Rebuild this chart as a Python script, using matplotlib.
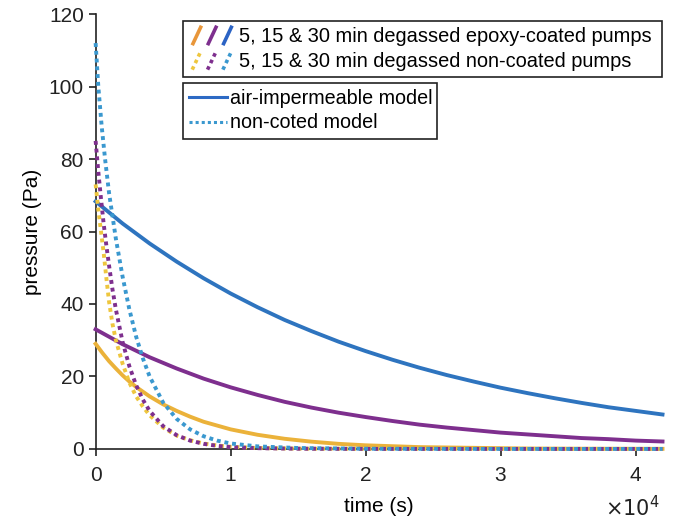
import matplotlib
matplotlib.use('Agg')
import matplotlib.pyplot as plt
from matplotlib.legend_handler import HandlerBase
from matplotlib.lines import Line2D
from matplotlib.ticker import FuncFormatter

plt.rcParams['font.family'] = ['Liberation Sans', 'DejaVu Sans']

# air-impermeable (epoxy-coated) model curves, time in s, pressure in Pa
t_solid_blue = [0, 2000, 4000, 6000, 8000, 10000, 12000, 14000, 16000, 18000, 20000,
                22000, 24000, 26000, 28000, 30000, 32000, 34000, 36000, 38000, 40000, 42000]
p_solid_blue = [68.3, 62.2, 56.7, 51.7, 47.1, 42.9, 39.1, 35.6, 32.5, 29.6, 27.0,
                24.6, 22.4, 20.4, 18.6, 16.9, 15.4, 14.0, 12.7, 11.5, 10.5, 9.5]
t_solid_purple = t_solid_blue
p_solid_purple = [33.0, 28.9, 25.3, 22.2, 19.4, 17.0, 14.9, 13.0, 11.4, 10.0, 8.8,
                  7.7, 6.7, 5.9, 5.2, 4.5, 4.0, 3.5, 3.0, 2.7, 2.3, 2.05]
t_solid_yellow = [0, 500, 1000, 1500, 2000, 2500, 3000, 4000, 5000, 6000, 7000, 8000,
                  10000, 12000, 14000, 16000, 18000, 20000, 24000, 28000, 32000, 36000, 42000]
p_solid_yellow = [29.0, 26.5, 24.2, 22.2, 20.3, 18.6, 17.1, 14.5, 12.3, 10.5, 8.9, 7.5,
                  5.4, 3.9, 2.8, 2.0, 1.4, 1.0, 0.5, 0.3, 0.1, 0.05, 0.02]

# non-coated model curves
t_dot_blue = [0, 200, 450, 700, 1000, 1500, 2000, 2500, 3000, 3500, 4000, 5000, 6000,
              7000, 8000, 9000, 10000, 12000, 15000, 20000, 30000, 42000]
p_dot_blue = [112, 100, 89, 80, 70.5, 58, 47.5, 38.5, 31, 25, 20, 12.8, 8.3,
              5.4, 3.5, 2.3, 1.5, 0.7, 0.25, 0.05, 0.0, 0.0]
t_dot_purple = [0, 200, 400, 600, 800, 1000, 1250, 1500, 2000, 2500, 3000, 3500, 4000,
                5000, 6000, 7000, 8000, 9000, 10000, 12000, 15000, 20000, 42000]
p_dot_purple = [85, 76.5, 69, 62, 56, 50.5, 44, 38.5, 29.5, 22.8, 17.6, 13.6, 10.5,
                6.3, 3.8, 2.3, 1.4, 0.85, 0.5, 0.2, 0.06, 0.01, 0.0]
t_dot_yellow = [0, 200, 400, 600, 800, 1000, 1250, 1500, 2000, 2500, 3000, 3500, 4000,
                5000, 6000, 7000, 8000, 9000, 10000, 12000, 15000, 20000, 42000]
p_dot_yellow = [73, 66, 60, 54, 47, 40.5, 34.5, 30, 23.5, 18.3, 14.5, 11.7, 9.3,
                5.9, 3.7, 2.4, 1.5, 0.95, 0.6, 0.25, 0.08, 0.01, 0.0]

legend_top = ['5, 15 & 30 min degassed epoxy-coated pumps',
              '5, 15 & 30 min degassed non-coated pumps']
legend_bottom = ['air-impermeable model', 'non-coted model']

BLUE = '#2E74BF'
PURPLE = '#7E2F8E'
YELLOW = '#EBB23A'
BLUE_D = '#3A98CF'
PURPLE_D = '#7E2F8E'
YELLOW_D = '#EEC63E'
DOTS = (0, (1, 1))


class SlashHandler(HandlerBase):
    def __init__(self, colors, ls):
        super().__init__()
        self.colors = colors
        self.ls = ls

    def create_artists(self, legend, orig_handle, xdescent, ydescent,
                       width, height, fontsize, trans):
        arts = []
        step = width / len(self.colors)
        for i, c in enumerate(self.colors):
            x0 = -xdescent + i * step + step * 0.2
            x1 = x0 + step * 0.6
            y0 = -ydescent - height * 0.2
            y1 = -ydescent + height * 1.2
            ln = Line2D([x0, x1], [y0, y1], color=c, lw=2.6, ls=self.ls,
                        solid_capstyle='butt', dash_capstyle='butt', transform=trans)
            arts.append(ln)
        return arts


fig, ax = plt.subplots(figsize=(6.83, 5.22), dpi=100)
fig.subplots_adjust(left=0.14, right=0.970, bottom=0.140, top=0.973)

lw = 2.8
ax.plot(t_solid_blue, p_solid_blue, color=BLUE, lw=lw, clip_on=False, zorder=3)
ax.plot(t_solid_purple, p_solid_purple, color=PURPLE, lw=lw, clip_on=False, zorder=3)
ax.plot(t_solid_yellow, p_solid_yellow, color=YELLOW, lw=lw, clip_on=False, zorder=3)
ax.plot(t_dot_yellow, p_dot_yellow, color=YELLOW_D, lw=lw, ls=DOTS,
        dash_capstyle='butt', clip_on=False, zorder=3)
ax.plot(t_dot_purple, p_dot_purple, color=PURPLE_D, lw=lw, ls=DOTS,
        dash_capstyle='butt', clip_on=False, zorder=3)
ax.plot(t_dot_blue, p_dot_blue, color=BLUE_D, lw=lw, ls=DOTS,
        dash_capstyle='butt', clip_on=False, zorder=3)

ax.set_xlim(0, 42000)
ax.set_ylim(0, 120)
ax.set_xticks([0, 10000, 20000, 30000, 40000])
ax.set_yticks([0, 20, 40, 60, 80, 100, 120])
ax.xaxis.set_major_formatter(FuncFormatter(lambda v, p: f'{v / 1e4:g}'))
ax.tick_params(direction='out', length=5, width=1.2, labelsize=15, colors='#222222')
ax.tick_params(axis='x', pad=7)
for s in ['top', 'right']:
    ax.spines[s].set_visible(False)
for s in ['left', 'bottom']:
    ax.spines[s].set_linewidth(1.2)
    ax.spines[s].set_color('#222222')

ax.text(0.995, -0.105, r'$\times10^{4}$', transform=ax.transAxes, ha='right', va='top',
        fontsize=15, color='#222222')
ax.set_xlabel('time (s)', fontsize=15, labelpad=9)
ax.set_ylabel('pressure (Pa)', fontsize=15, labelpad=5)

h1 = Line2D([], [])
h2 = Line2D([], [])
leg1 = ax.legend([h1, h2], legend_top, loc='upper left',
                 bbox_to_anchor=(0.1537, 0.856, 0.8453, 0.128), mode='expand',
                 handler_map={h1: SlashHandler(['#E8963A', PURPLE, '#2B63C4'], '-'),
                              h2: SlashHandler([YELLOW_D, PURPLE, BLUE_D], DOTS)},
                 fontsize=14.4, fancybox=False, framealpha=1, borderaxespad=0,
                 handlelength=2.3, handletextpad=0.2, borderpad=0.32, labelspacing=0.27)
leg1.get_frame().set_edgecolor('#222222')
leg1.get_frame().set_linewidth(1.2)
ax.add_artist(leg1)

l1 = Line2D([], [], color='#2D6AC4', lw=2.2)
l2 = Line2D([], [], color=BLUE_D, lw=2.2, ls=DOTS, dash_capstyle='butt')
leg2 = ax.legend([l1, l2], legend_bottom, loc='upper left',
                 bbox_to_anchor=(0.1537, 0.718, 0.4489, 0.124), mode='expand',
                 fontsize=14.2, fancybox=False, framealpha=1, borderaxespad=0,
                 handlelength=1.9, handletextpad=0.2, borderpad=0.32, labelspacing=0.27)
leg2.get_frame().set_edgecolor('#222222')
leg2.get_frame().set_linewidth(1.2)

fig.savefig('out.png', dpi=100)
